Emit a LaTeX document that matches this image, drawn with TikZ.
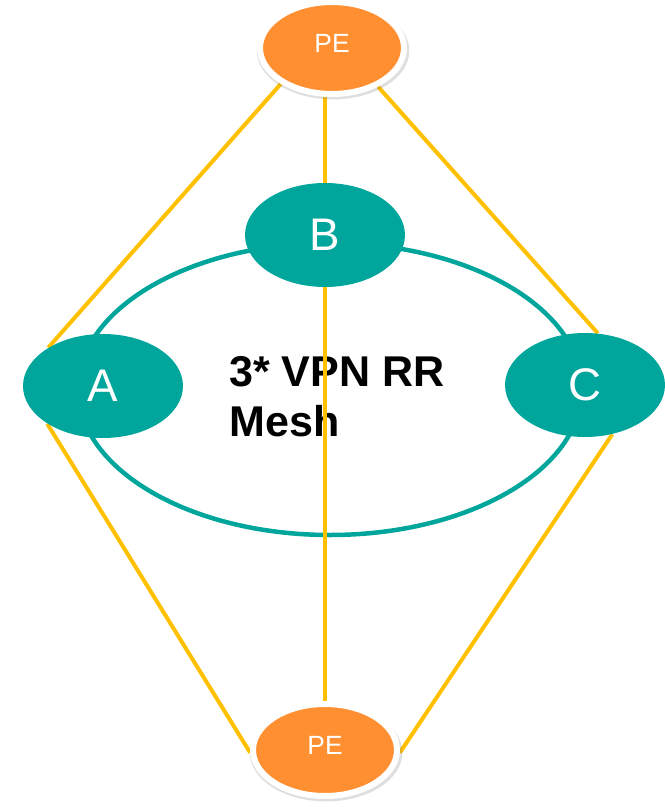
\documentclass[tikz,border=0pt]{standalone}
\usepackage{fontspec}
\setmainfont{Liberation Sans}
\usetikzlibrary{shapes.geometric,positioning,backgrounds,shadows}
\definecolor{rrteal}{RGB}{0,166,156}
\definecolor{peorange}{RGB}{255,143,48}
\definecolor{linkyellow}{RGB}{255,192,0}

\begin{document}
\begin{tikzpicture}[x=0.02cm,y=-0.02cm,
    rr/.style={ellipse,fill=rrteal,inner sep=0pt,minimum width=3.2cm,minimum height=2.08cm,
        text=white,font=\fontsize{26}{30}\selectfont},
    pe/.style={ellipse,fill=peorange,draw=white,line width=0.12cm,inner sep=0pt,
        minimum width=2.88cm,minimum height=1.84cm,text=white,text depth=5pt,
        font=\fontsize{15}{17}\selectfont,
        drop shadow={opacity=0.25,shadow scale=1.06,shadow xshift=0.02cm,shadow yshift=-0.05cm}},
    link/.style={draw=linkyellow,line width=0.08cm}]
    \useasboundingbox (0,0) rectangle (664,807);

    % PE routers
    \node[pe] (pet) at (332,48) {PE};
    \node[pe] (peb) at (325,750) {PE};

    % Route reflectors
    \node[rr] (b) at (325,235) {B};
    \node[rr] (a) at (103,386) {A};
    \node[rr] (c) at (585,385) {C};

    \begin{scope}[on background layer]
        % Mesh ring
        \draw[rrteal,line width=0.09cm] (330,389) ellipse (252 and 146);
        \node[font=\bfseries\fontsize{24.5}{28.5}\selectfont,align=left,anchor=north west,inner sep=0pt]
            (mesh) at (229,356) {3* VPN RR\\Mesh};

        % Links
        \draw[link] (pet.215) -- (a.145);
        \draw[link] (b.north) -- (b.north |- pet.south);
        \draw[link] (pet.320) -- (c.76);
        \draw[link] (a.214) -- (peb.182);
        \draw[link] (b.south) -- (peb.north);
        \draw[link] (c.299) -- (peb.358);
    \end{scope}
\end{tikzpicture}
\end{document}
